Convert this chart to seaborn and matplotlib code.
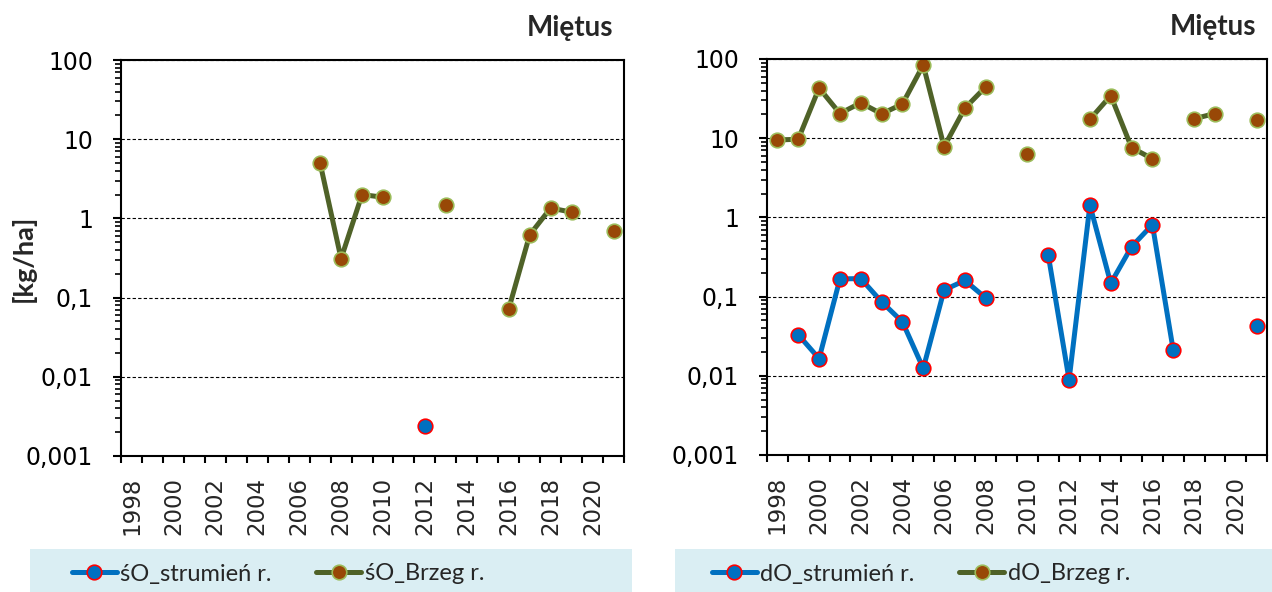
import numpy as np
import pandas as pd
import matplotlib
matplotlib.use("Agg")
import matplotlib.pyplot as plt
import matplotlib.ticker as mticker
from matplotlib.lines import Line2D
from matplotlib.patches import Rectangle
import seaborn as sns

# Dane (Miętus), brak pomiaru = None
lata = list(range(1998, 2022))

sO_strumien = [None] * 14 + [0.0024] + [None] * 9

sO_brzeg = [None, None, None, None, None, None, None, None, None,
            5.0, 0.31, 2.0, 1.85, None, None, 1.47, None, None,
            0.072, 0.62, 1.35, 1.2, None, 0.69]

dO_strumien = [None, 0.033, 0.0165, 0.167, 0.169, 0.086, 0.048, 0.0124,
               0.121, 0.16, 0.096, None, None, 0.335, 0.0089, 1.43,
               0.147, 0.427, 0.81, 0.021, None, None, None, 0.043]

dO_brzeg = [9.5, 9.7, 43, 20.5, 28, 20.3, 27, 84, 7.8, 24, 44.5, None,
            6.4, None, None, 17.3, 34.5, 7.6, 5.5, None, 17.6, 20.5,
            None, 16.8]

etykiety_y = ["0,001", "0,01", "0,1", "1", "10", "100"]

NIEBIESKI = "#0070C0"
CZERWONY = "#FF0000"
BRAZ = "#984807"
ZIELONY_JASNY = "#9BBB59"
OLIWKOWY = "#4F6228"

sns.set_style("ticks")
plt.rcParams["font.family"] = ["DejaVu Sans"]

styl_strumien = dict(color=NIEBIESKI, markerfacecolor=NIEBIESKI,
                     markeredgecolor=CZERWONY)
styl_brzeg = dict(color=OLIWKOWY, markerfacecolor=BRAZ,
                  markeredgecolor=ZIELONY_JASNY)
wspolne = dict(marker="o", markersize=10.5, markeredgewidth=1.2, linewidth=3.6)


def odcinki(lata, wartosci):
    # dzieli serie na ciagle odcinki, zeby linia przerywala sie przy brakach
    wiersze, nr, poprz = [], 0, False
    for rok, w in zip(lata, wartosci):
        if w is None:
            poprz = False
            continue
        if not poprz:
            nr += 1
        wiersze.append((rok, w, nr))
        poprz = True
    return pd.DataFrame(wiersze, columns=["rok", "wartosc", "odcinek"])


def rysuj_panel(ax, seria1, seria2):
    for seria, styl in ((seria1, styl_strumien), (seria2, styl_brzeg)):
        df = odcinki(lata, seria)
        sns.lineplot(data=df, x="rok", y="wartosc", units="odcinek",
                     estimator=None, sort=False, legend=False, ax=ax,
                     **styl, **wspolne)
    ax.set_yscale("log")
    ax.set_ylim(0.001, 100)
    ax.set_xlim(1997.5, 2021.5)
    ax.set_xlabel("")
    ax.set_ylabel("")

    ax.yaxis.set_major_locator(mticker.FixedLocator([0.001, 0.01, 0.1, 1, 10, 100]))
    ax.yaxis.set_major_formatter(mticker.FixedFormatter(etykiety_y))
    ax.yaxis.set_minor_locator(mticker.LogLocator(base=10, subs=np.arange(2, 10)))
    ax.yaxis.set_minor_formatter(mticker.NullFormatter())
    ax.tick_params(axis="y", which="major", direction="out", length=6,
                   width=1.5, labelsize=17, pad=14, colors="black")
    ax.tick_params(axis="y", which="minor", direction="out", length=4,
                   width=1.2, colors="black")

    ax.set_xticks(lata[::2])
    ax.set_xticklabels([str(r) for r in lata[::2]], rotation=90)
    ax.set_xticks(np.arange(1997.5, 2022, 1), minor=True)
    ax.tick_params(axis="x", which="major", length=0, labelsize=16.5, pad=15)
    ax.tick_params(axis="x", which="minor", direction="out", length=5,
                   width=1.5, colors="black")

    ax.yaxis.grid(True, which="major", linestyle=(0, (3, 2)),
                  color="black", linewidth=0.8)
    for s in ax.spines.values():
        s.set_visible(True)
        s.set_color("black")
        s.set_linewidth(1.5)


def legenda(fig, x0, x1, xc, nazwy):
    W, H = 1272, 592
    fig.patches.append(Rectangle((x0 / W, 0), (x1 - x0) / W, (H - 549) / H,
                                 transform=fig.transFigure, facecolor="#DAEEF3",
                                 edgecolor="none", zorder=0))
    uchwyty = [Line2D([], [], **styl_strumien, **wspolne),
               Line2D([], [], **styl_brzeg, **wspolne)]
    fig.legend(uchwyty, nazwy, loc="center", ncol=2,
               bbox_to_anchor=(xc / W, 1 - 574 / H), frameon=False,
               prop={"family": ["Lato", "DejaVu Sans"], "size": 17},
               handlelength=1.9, handletextpad=0.15, columnspacing=1.9)


fig = plt.figure(figsize=(12.72, 5.92), dpi=100)
ax1 = fig.add_axes([121 / 1272, 1 - 456 / 592, 503 / 1272, 396 / 592])
ax2 = fig.add_axes([767 / 1272, 1 - 455 / 592, 500 / 1272, 396 / 592])

rysuj_panel(ax1, sO_strumien, sO_brzeg)
rysuj_panel(ax2, dO_strumien, dO_brzeg)

for ax in (ax1, ax2):
    ax.text(1 - 11 / 503, 1 + 24 / 396, "Miętus", transform=ax.transAxes,
            ha="right", va="baseline", fontsize=20, fontweight="bold",
            family=["Lato", "DejaVu Sans"])

fig.text(23 / 1272, 1 - 258 / 592, "[kg/ha]", rotation=90, ha="center",
         va="center", fontsize=19.5, fontweight="bold",
         family=["Lato", "DejaVu Sans"])

legenda(fig, 30, 632, 278, ["śO_strumień r.", "śO_Brzeg r."])
legenda(fig, 675, 1272, 921, ["dO_strumień r.", "dO_Brzeg r."])

fig.savefig("out.png", dpi=100)
